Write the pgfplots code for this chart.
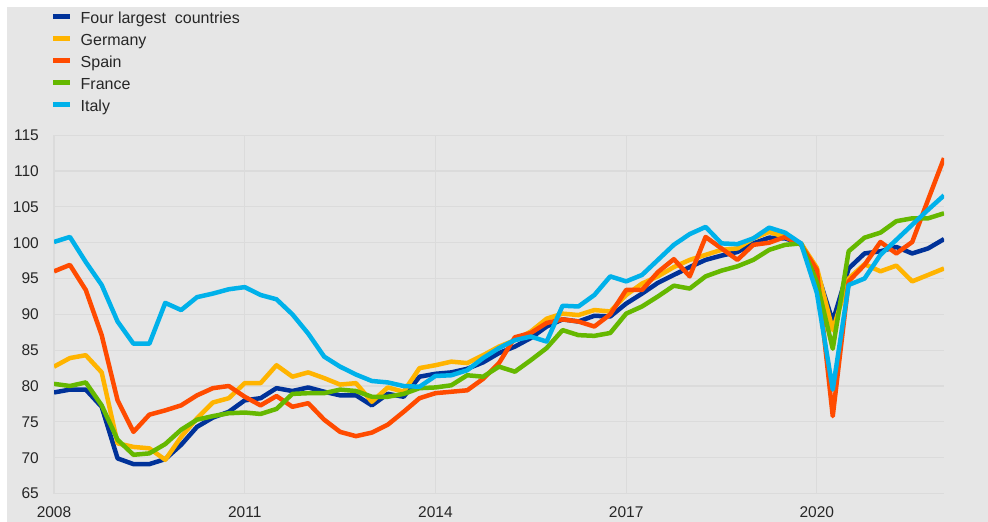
\documentclass[border=0pt]{standalone}
\usepackage{pgfplots}
\pgfplotsset{compat=1.18}
\usepackage{pgfplotstable}
\usepackage{fontspec}
\setmainfont{Liberation Sans}
\definecolor{bg}{RGB}{230,230,230}
\definecolor{gridc}{RGB}{219,219,219}
\definecolor{ecbblue}{RGB}{0,50,153}
\definecolor{ecbyellow}{RGB}{255,180,0}
\definecolor{ecborange}{RGB}{255,75,0}
\definecolor{ecbgreen}{RGB}{101,184,0}
\definecolor{ecbcyan}{RGB}{0,177,234}
\pgfplotstableread{
x       four   ger    spa    fra    ita
2008.00 79.1   82.7   96.0   80.3   100.1
2008.25 79.5   83.9   96.9   80.0   100.8
2008.50 79.5   84.3   93.4   80.5   97.3
2008.75 77.1   81.9   87.1   77.3   94.1
2009.00 69.9   72.0   78.0   72.5   89.0
2009.25 69.1   71.5   73.6   70.4   85.9
2009.50 69.1   71.3   76.0   70.6   85.9
2009.75 69.8   69.7   76.6   71.9   91.6
2010.00 71.8   72.9   77.3   73.9   90.6
2010.25 74.3   75.5   78.7   75.3   92.4
2010.50 75.6   77.7   79.7   75.8   92.9
2010.75 76.4   78.3   80.0   76.2   93.5
2011.00 78.0   80.4   78.5   76.3   93.8
2011.25 78.3   80.4   77.3   76.1   92.7
2011.50 79.7   82.9   78.6   76.8   92.1
2011.75 79.3   81.3   77.1   78.9   90.0
2012.00 79.8   81.9   77.6   79.0   87.3
2012.25 79.2   81.1   75.3   79.0   84.1
2012.50 78.7   80.2   73.6   79.5   82.7
2012.75 78.7   80.4   73.0   79.3   81.6
2013.00 77.3   77.8   73.5   78.5   80.7
2013.25 78.9   79.8   74.6   78.5   80.5
2013.50 78.5   79.2   76.4   78.9   80.0
2013.75 81.3   82.5   78.3   79.7   79.9
2014.00 81.7   82.9   79.0   79.8   81.4
2014.25 81.9   83.4   79.2   80.1   81.5
2014.50 82.4   83.2   79.4   81.5   82.2
2014.75 83.3   84.3   81.0   81.3   83.9
2015.00 84.6   85.5   83.2   82.7   85.3
2015.25 85.5   86.4   86.8   82.0   86.4
2015.50 86.7   87.6   87.4   83.6   86.9
2015.75 88.3   89.4   88.8   85.3   86.2
2016.00 89.3   90.1   89.3   87.8   91.2
2016.25 89.0   89.9   89.0   87.1   91.1
2016.50 89.8   90.6   88.3   87.0   92.7
2016.75 89.7   90.4   90.0   87.4   95.3
2017.00 91.5   92.7   93.4   90.1   94.6
2017.25 92.9   94.3   93.4   91.1   95.5
2017.50 94.4   95.3   95.9   92.5   97.6
2017.75 95.5   96.6   97.7   94.0   99.7
2018.00 96.6   97.6   95.3   93.6   101.2
2018.25 97.6   98.3   100.8  95.3   102.2
2018.50 98.2   99.0   99.2   96.1   99.9
2018.75 98.7   99.2   97.6   96.7   99.8
2019.00 99.9   100.6  99.7   97.6   100.6
2019.25 100.7  101.5  100.0  99.0   102.1
2019.50 100.6  100.8  100.8  99.7   101.4
2019.75 99.9   99.9   99.7   99.9   99.9
2020.00 96.0   96.5   96.2   94.5   93.0
2020.25 89.0   87.8   75.8   85.2   79.5
2020.50 96.4   95.0   94.6   98.8   94.1
2020.75 98.5   97.0   96.9   100.7  95.0
2021.00 98.8   96.0   100.1  101.4  98.3
2021.25 99.4   96.8   98.5   103.0  100.4
2021.50 98.5   94.6   100.1  103.4  102.5
2021.75 99.2   95.5   106.0  103.4  104.6
2022.00 100.5  96.4   111.8  104.1  106.6
}\datatable
\begin{document}
\begin{tikzpicture}
\fill[white] (0,0) rectangle (988bp,522bp);
\fill[bg] (7bp,0) rectangle (988bp,515bp);
\begin{axis}[
  at={(54bp,28.5bp)}, anchor=south west,
  scale only axis, width=890bp, height=358.3bp,
  xmin=2008, xmax=2022, ymin=65, ymax=115,
  xtick={2008,2011,2014,2017,2020},
  ytick={65,70,...,115},
  axis line style={draw=none},
  major tick length=0pt,
  grid=major,
  major grid style={gridc, line width=1.2bp},
  /pgf/number format/assume math mode=true,
  tick label style={font=\fontsize{15.5bp}{18bp}\selectfont, text=black!85},
  xticklabel style={/pgf/number format/1000 sep={}, anchor=north, inner sep=0pt, yshift=-13bp},
  yticklabel style={anchor=east, inner sep=0pt, xshift=-15bp},
  legend style={at={(0,1)}, anchor=north west, xshift=-3.5bp, yshift=122.7bp,
    draw=none, fill=none, inner sep=0pt, outer sep=0pt,
    font=\fontsize{16bp}{19bp}\selectfont, text=black!85, row sep=7.5bp,
    nodes={inner sep=0pt, text height=11.5bp, text depth=3bp},
    /tikz/every odd column/.style={column sep=8.6bp}},
  legend cell align=left,
  legend image code/.code={\draw[#1, line width=5bp, line cap=butt] (0bp,3.4bp) -- (16.6bp,3.4bp);},
  every axis plot/.append style={line width=4.5bp, line join=round, mark=none},
]
\addplot[ecbblue] table[x=x, y=four] {\datatable};
\addlegendentry{Four largest\ \ countries}
\addplot[ecbyellow] table[x=x, y=ger] {\datatable};
\addlegendentry{Germany}
\addplot[ecborange] table[x=x, y=spa] {\datatable};
\addlegendentry{Spain}
\addplot[ecbgreen] table[x=x, y=fra] {\datatable};
\addlegendentry{France}
\addplot[ecbcyan] table[x=x, y=ita] {\datatable};
\addlegendentry{Italy}
\end{axis}
\end{tikzpicture}
\end{document}
